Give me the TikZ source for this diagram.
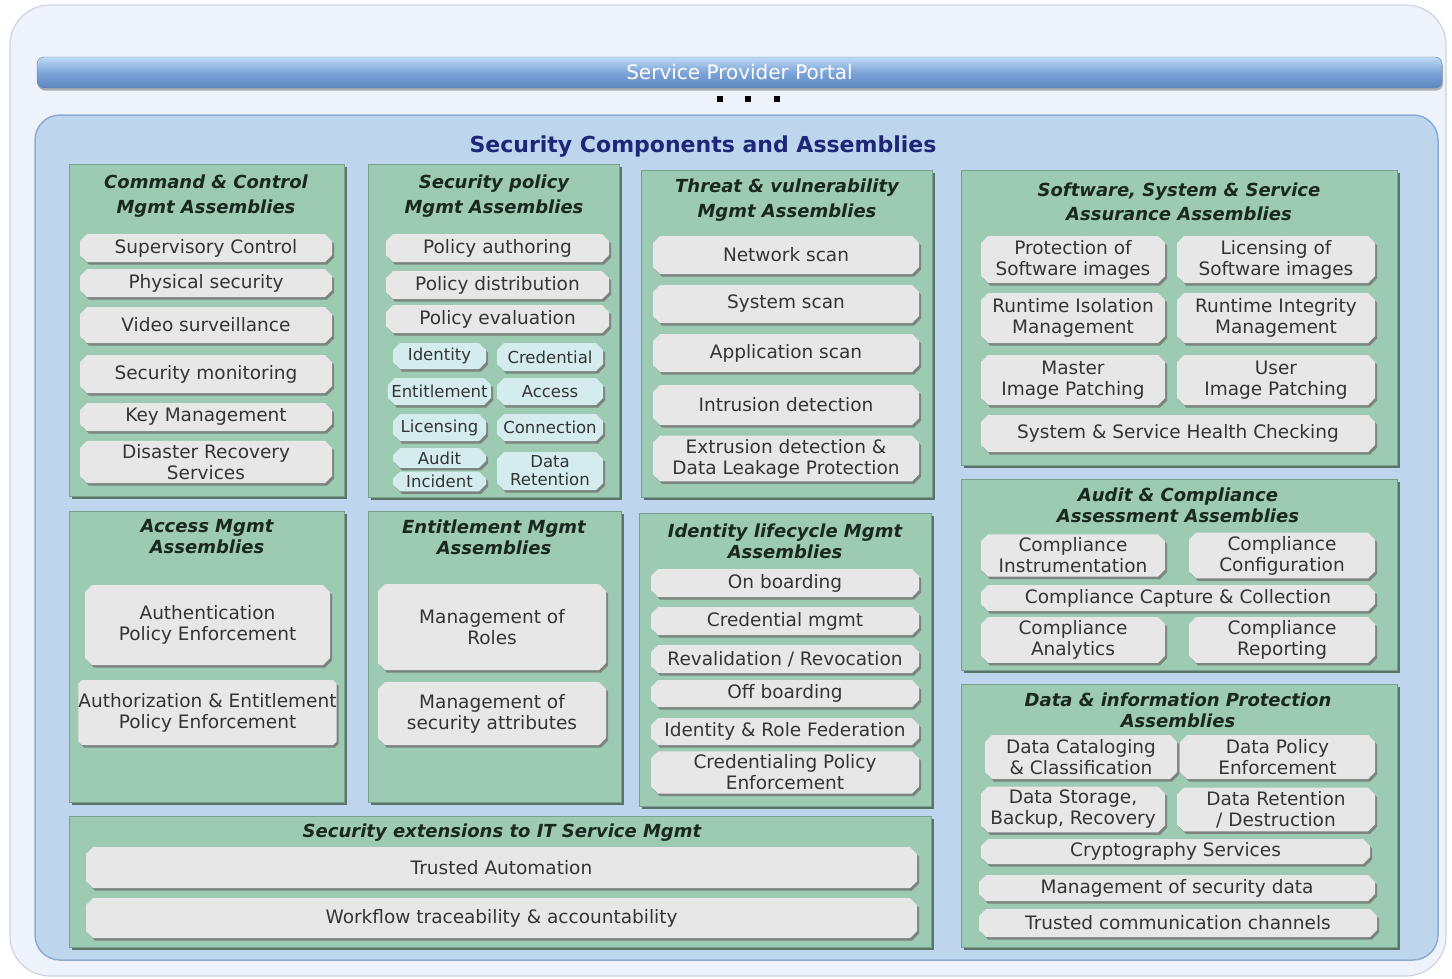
\documentclass[tikz,border=0pt]{standalone}
\usepackage{fontspec}
\setmainfont{DejaVu Sans}
\usepackage{tikz}
\usetikzlibrary{shapes.misc, shadows}
\definecolor{pagebg}{RGB}{238, 242, 250}
\definecolor{pageline}{RGB}{204, 212, 226}
\definecolor{barlight}{RGB}{190, 218, 244}
\definecolor{barmid}{RGB}{124, 164, 216}
\definecolor{bardark}{RGB}{92, 134, 192}
\definecolor{panelbg}{RGB}{190, 213, 238}
\definecolor{panelline}{RGB}{140, 172, 214}
\definecolor{navy}{RGB}{30, 38, 120}
\definecolor{asmfill}{RGB}{156, 202, 178}
\definecolor{asmline}{RGB}{120, 160, 140}
\definecolor{asmshade}{RGB}{80, 106, 92}
\definecolor{asmtext}{RGB}{26, 40, 32}
\definecolor{compfill}{RGB}{231, 231, 231}
\definecolor{comptext}{RGB}{52, 52, 52}
\definecolor{tagfill}{RGB}{212, 236, 238}
% box from (x1,y1) to (x2,y2), in pixels of the page
\newcommand{\compbox}[7][component]{%
  \node[#1, minimum width={#5-#3}, minimum height={#6-#4}] (#2)
    at ({(#3+#5)/2}, {(#4+#6)/2}) {#7};}

\begin{document}
\begin{tikzpicture}[x=1pt, y=-1pt,
  assembly/.style={rectangle, fill=asmfill, draw=asmline, line width=0.6pt, inner sep=0pt,
    drop shadow={shadow xshift=2.5pt, shadow yshift=-2.5pt, fill=asmshade, opacity=0.9}},
  asmtitle/.style={font=\fontsize{18}{24.5}\selectfont\bfseries\itshape, text=asmtext,
    align=center, inner sep=0pt},
  component/.style={chamfered rectangle, chamfered rectangle xsep=3.5pt,
    chamfered rectangle ysep=3.5pt, fill=compfill, inner sep=0pt, align=center,
    text=comptext, font=\fontsize{18.5}{21}\selectfont,
    drop shadow={shadow xshift=2pt, shadow yshift=-2.5pt, fill=black!55, opacity=0.8}},
  subcomponent/.style={component, fill=tagfill, font=\fontsize{16.5}{18}\selectfont}]

  \useasboundingbox (0,0) rectangle (1452,978);
  \fill[white] (0,0) rectangle (1452,978);
  \draw[fill=pagebg, draw=pageline, line width=1.2pt, rounded corners=40pt] (10,5) rectangle (1446,976);

  % portal
  \node[rectangle, rounded corners=7pt, top color=barlight, bottom color=bardark, middle color=barmid,
    draw=bardark, minimum width=1405, minimum height=31, text=white,
    font=\fontsize{20}{22}\selectfont,
    drop shadow={shadow xshift=1pt, shadow yshift=-2.5pt, fill=black!50, opacity=0.6}]
    (portal) at (739.5,72.5) {Service Provider Portal};
  \foreach \x in {720, 748, 777}
    \fill (\x-3,96) rectangle ++(6,6);

  % components panel
  \draw[fill=panelbg, draw=panelline, line width=1.5pt, rounded corners=25pt] (35,115) rectangle (1438,960);
  \node[font=\fontsize{22}{24}\selectfont\bfseries, text=navy] (heading) at (703,147)
    {Security Components and Assemblies};

  % assemblies
  \compbox[assembly]{cc}{69}{164}{344}{496}{}
  \compbox[assembly]{sp}{368}{164}{619}{497}{}
  \compbox[assembly]{tv}{641}{170}{932}{497}{}
  \compbox[assembly]{sa}{961}{170}{1397}{465}{}
  \compbox[assembly]{am}{69}{511}{344}{802}{}
  \compbox[assembly]{em}{368}{511}{621}{802}{}
  \compbox[assembly]{il}{639}{513}{931}{806}{}
  \compbox[assembly]{ac}{961}{479}{1397}{670}{}
  \compbox[assembly]{dp}{961}{684}{1397}{947}{}
  \compbox[assembly]{it}{69}{816}{931}{947}{}

  \node[asmtitle] (cctitle) at (206,196) {Command \& Control\\Mgmt Assemblies};
  \node[asmtitle] (sptitle) at (494,196) {Security policy\\Mgmt Assemblies};
  \node[asmtitle] (tvtitle) at (787,200) {Threat \& vulnerability\\Mgmt Assemblies};
  \node[asmtitle] (satitle) at (1179,202) {Software, System \& Service\\Assurance Assemblies};
  \node[asmtitle, font=\fontsize{18}{21}\selectfont\bfseries\itshape] (amtitle) at (207,537) {Access Mgmt\\Assemblies};
  \node[asmtitle, font=\fontsize{18}{21}\selectfont\bfseries\itshape] (emtitle) at (494,537) {Entitlement Mgmt\\Assemblies};
  \node[asmtitle, font=\fontsize{18}{21}\selectfont\bfseries\itshape] (iltitle) at (785,541) {Identity lifecycle Mgmt\\Assemblies};
  \node[asmtitle, font=\fontsize{18}{21}\selectfont\bfseries\itshape] (actitle) at (1178,505) {Audit \& Compliance\\Assessment Assemblies};
  \node[asmtitle, font=\fontsize{18}{21}\selectfont\bfseries\itshape] (dptitle) at (1178,710) {Data \& information Protection\\Assemblies};
  \node[asmtitle] (ittitle) at (502,833) {Security extensions to IT Service Mgmt};

  % command & control
  \foreach \n/\ya/\yb/\t in {1/234/262/Supervisory Control, 2/269/297/Physical security,
      3/307/343/Video surveillance, 4/355/393/Security monitoring, 5/403/431/Key Management,
      6/441/483/Disaster Recovery\\Services}
    {\compbox{cc\n}{80}{\ya}{332}{\yb}{\t}}

  % security policy
  \foreach \n/\ya/\yb/\t in {1/234/262/Policy authoring, 2/271/299/Policy distribution,
      3/305/333/Policy evaluation}
    {\compbox{sp\n}{386}{\ya}{609}{\yb}{\t}}
  \compbox[subcomponent]{spid}{393}{343}{486}{369}{Identity}
  \compbox[subcomponent]{spcr}{497}{343}{603}{371}{Credential}
  \compbox[subcomponent]{spen}{393}{378}{486}{405}{Entitlement}
  \compbox[subcomponent]{spac}{497}{378}{603}{405}{Access}
  \compbox[subcomponent]{spli}{393}{414}{486}{441}{Licensing}
  \compbox[subcomponent]{spco}{497}{414}{603}{441}{Connection}
  \compbox[subcomponent]{spau}{393}{450}{486}{466}{Audit}
  \compbox[subcomponent]{spin}{393}{473}{486}{490}{Incident}
  \compbox[subcomponent]{spdr}{497}{452}{603}{490}{Data\\Retention}

  % threat & vulnerability
  \foreach \n/\ya/\yb/\t in {1/236/274/Network scan, 2/285/323/System scan,
      3/334/372/Application scan, 4/385/425/Intrusion detection,
      5/436/481/Extrusion detection \&\\Data Leakage Protection}
    {\compbox{tv\n}{653}{\ya}{919}{\yb}{\t}}

  % software, system & service assurance
  \compbox{sa1}{981}{236}{1165}{283}{Protection of\\Software images}
  \compbox{sa2}{1177}{236}{1375}{283}{Licensing of\\Software images}
  \compbox{sa3}{981}{293}{1165}{343}{Runtime Isolation\\Management}
  \compbox{sa4}{1177}{293}{1375}{343}{Runtime Integrity\\Management}
  \compbox{sa5}{981}{355}{1165}{405}{Master\\Image Patching}
  \compbox{sa6}{1177}{355}{1375}{405}{User\\Image Patching}
  \compbox{sa7}{981}{415}{1375}{452}{System \& Service Health Checking}

  % access mgmt
  \compbox{am1}{85}{585}{330}{665}{Authentication\\Policy Enforcement}
  \compbox[component, chamfered rectangle xsep=0pt]{am2}{85}{680}{330}{745}{Authorization \& Entitlement\\Policy Enforcement}

  % entitlement mgmt
  \compbox{em1}{378}{584}{606}{670}{Management of\\Roles}
  \compbox{em2}{378}{682}{606}{745}{Management of\\security attributes}

  % identity lifecycle
  \foreach \n/\ya/\yb/\t in {1/569/597/On boarding, 2/607/635/Credential mgmt,
      3/645/673/{Revalidation / Revocation}, 4/680/707/Off boarding,
      5/718/745/Identity \& Role Federation, 6/753/792/Credentialing Policy\\Enforcement}
    {\compbox{il\n}{651}{\ya}{919}{\yb}{\t}}

  % audit & compliance
  \compbox{ac1}{981}{536}{1165}{575}{Compliance\\Instrumentation}
  \compbox{ac2}{1189}{536}{1375}{575}{Compliance\\Configuration}
  \compbox{ac3}{981}{585}{1375}{611}{Compliance Capture \& Collection}
  \compbox{ac4}{981}{620}{1165}{660}{Compliance\\Analytics}
  \compbox{ac5}{1189}{620}{1375}{660}{Compliance\\Reporting}

  % data & information protection
  \compbox{dp1}{985}{735}{1177}{779}{Data Cataloging\\\& Classification}
  \compbox{dp2}{1180}{735}{1375}{779}{Data Policy\\Enforcement}
  \compbox{dp3}{981}{789}{1165}{830}{Data Storage,\\Backup, Recovery}
  \compbox{dp4}{1177}{789}{1375}{830}{Data Retention\\/ Destruction}
  \compbox{dp5}{981}{839}{1370}{864}{Cryptography Services}
  \compbox{dp6}{979}{875}{1375}{901}{Management of security data}
  \compbox{dp7}{979}{909}{1377}{937}{Trusted communication channels}

  % IT service mgmt extensions
  \compbox{it1}{86}{847}{917}{888}{Trusted Automation}
  \compbox{it2}{86}{898}{917}{938}{Workflow traceability \& accountability}

\end{tikzpicture}
\end{document}
